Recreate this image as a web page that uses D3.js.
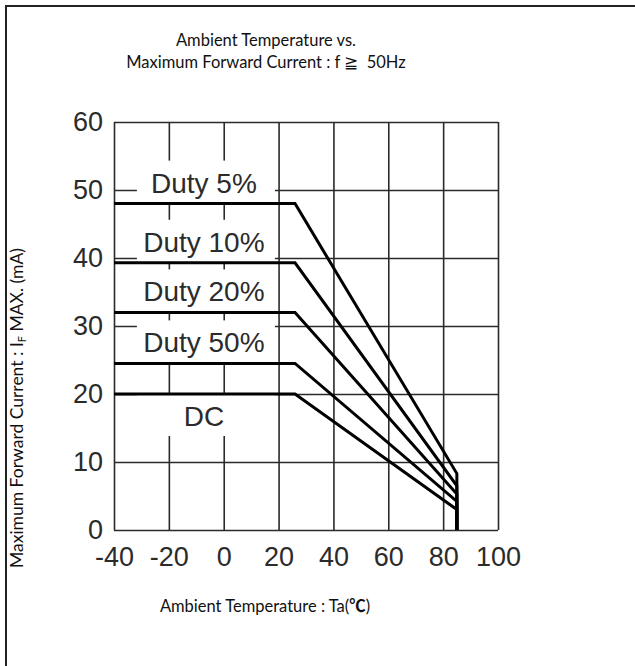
<!DOCTYPE html>
<html>
<head>
<meta charset="utf-8">
<script src="https://cdn.jsdelivr.net/npm/d3@7"></script>
<style>
  html, body { margin: 0; padding: 0; background: #fff; }
  svg { display: block; }
</style>
</head>
<body>
<svg id="chart" width="635" height="666"></svg>
<script>
// ---- data ----
const xTicks = [-40, -20, 0, 20, 40, 60, 80, 100];
const yTicks = [0, 10, 20, 30, 40, 50, 60];
const seriesNames = ["Duty 5%", "Duty 10%", "Duty 20%", "Duty 50%", "DC"];
const tempPoints = [-40, 26, 85];          // Ta (°C) at start, knee, end
const duty5 = [48, 48, 8.3];
const duty10 = [39.3, 39.3, 6.5];
const duty20 = [32, 32, 5.3];
const duty50 = [24.5, 24.5, 4.2];
const dc = [20, 20, 3];
const seriesValues = [duty5, duty10, duty20, duty50, dc];
const titleLines = ["Ambient Temperature vs.", "Maximum Forward Current : f \u2267  50Hz"];
const xTitleParts = ["Ambient Temperature : Ta(", "\u2103", ")"];
const yTitleParts = ["Maximum Forward Current : I", "F", " MAX. (mA)"];

// ---- layout ----
(function () {
const svg = d3.select("#chart");
const pL = 114, pR = 498, pT = 122, pB = 530;
const x = d3.scaleLinear().domain([-40, 100]).range([pL, pR]);
const y = d3.scaleLinear().domain([0, 60]).range([pB, pT]);
const gridColor = "#2a2a2a";
const tickFont = "'Liberation Sans', Arial, sans-serif";
const titleFont = "Lato, 'Open Sans', sans-serif";
const titleSize = 16.5;

// outer frame (right/bottom edges run off the canvas)
svg.append("rect")
  .attr("x", 6).attr("y", 6).attr("width", 700).attr("height", 700)
  .attr("fill", "none").attr("stroke", "#222").attr("stroke-width", 2);

// title
svg.append("g").selectAll("text").data(titleLines).join("text")
  .attr("x", 266).attr("y", (d, i) => 46 + i * 22)
  .attr("text-anchor", "middle")
  .attr("font-family", titleFont).attr("font-size", titleSize)
  .attr("fill", "#111")
  .style("white-space", "pre")
  .text(d => d);

// grid via axes
const fmt = d => String(d);
const gx = svg.append("g").attr("transform", `translate(0,${pB})`)
  .call(d3.axisBottom(x).tickValues(xTicks).tickSizeInner(-(pB - pT)).tickSizeOuter(0).tickPadding(17).tickFormat(fmt));
const gy = svg.append("g").attr("transform", `translate(${pL},0)`)
  .call(d3.axisLeft(y).tickValues(yTicks).tickSizeInner(-(pR - pL)).tickSizeOuter(0).tickPadding(11).tickFormat(fmt));
[gx, gy].forEach(g => {
  g.select(".domain").remove();
  g.selectAll(".tick line").attr("stroke", gridColor).attr("stroke-width", 1.6);
  g.selectAll(".tick text").attr("font-family", tickFont).attr("font-size", 27).attr("fill", "#2b2b2b");
});

// label backgrounds (white boxes that mask the grid)
const labelCx = x(-6.5);
const boxW = 138;
const labelG = svg.append("g");
seriesNames.forEach((name, i) => {
  const v = seriesValues[i][0];
  const below = name === "DC";
  const yTop = below ? y(v) : y(v) - 43;
  labelG.append("rect")
    .attr("x", labelCx - boxW / 2).attr("y", yTop)
    .attr("width", boxW).attr("height", 42)
    .attr("fill", "#fff");
  labelG.append("text")
    .attr("x", labelCx - 2).attr("y", below ? y(v) + 32 : y(v) - 11)
    .attr("text-anchor", "middle")
    .attr("font-family", tickFont).attr("font-size", 28)
    .attr("fill", "#2b2b2b")
    .text(name);
});

// series lines
const line = d3.line().x(d => x(d[0])).y(d => y(d[1]));
seriesValues.forEach(vals => {
  const pts = tempPoints.map((t, j) => [t, vals[j]]);
  pts.push([tempPoints[tempPoints.length - 1], 0]);
  svg.append("path")
    .attr("d", line(pts))
    .attr("fill", "none").attr("stroke", "#000")
    .attr("stroke-width", 3).attr("stroke-linejoin", "miter");
});

// axis titles
const xt = svg.append("text")
  .attr("x", 265).attr("y", 612)
  .attr("text-anchor", "middle")
  .attr("font-family", titleFont).attr("font-size", titleSize)
  .attr("fill", "#111");
xt.append("tspan").text(xTitleParts[0]);
xt.append("tspan").attr("font-family", "'Noto Sans CJK JP', sans-serif").attr("font-weight", 700).text(xTitleParts[1]);
xt.append("tspan").text(xTitleParts[2]);

const yt = svg.append("text")
  .attr("transform", "translate(23,408) rotate(-90)")
  .attr("text-anchor", "middle")
  .attr("font-family", titleFont).attr("font-size", 17.5)
  .attr("fill", "#111");
yt.append("tspan").text(yTitleParts[0]);
yt.append("tspan").attr("font-size", 11).attr("dy", 3).text(yTitleParts[1]);
yt.append("tspan").attr("dy", -3).text(yTitleParts[2]);
})();
</script>
</body>
</html>
